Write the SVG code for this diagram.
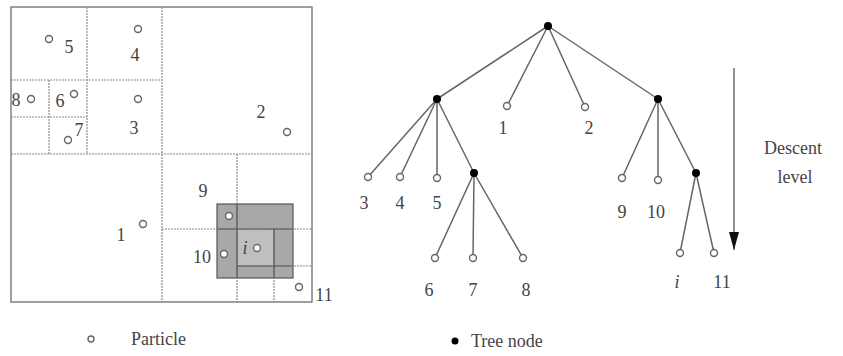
<svg xmlns="http://www.w3.org/2000/svg" width="843" height="356" viewBox="0 0 843 356">
<defs>
<style>
.grid{stroke:#8a8a8a;stroke-width:1.2;stroke-dasharray:2 1;fill:none}
.dk{stroke:#555;stroke-width:1.2;fill:none}
.p{fill:#fff;stroke:#666;stroke-width:1.4}
.n{fill:#000}
.t{font-family:"Liberation Serif",serif;font-size:18px;fill:#444;text-anchor:middle}
.e{stroke:#666;stroke-width:1.5;fill:none}
</style>
<marker id="ah" markerWidth="18" markerHeight="10" refX="18" refY="5" orient="auto" markerUnits="userSpaceOnUse" viewBox="0 0 18 10">
<path d="M0,0 L18,5 L0,10 Z" fill="#111"/>
</marker>
</defs>
<rect width="843" height="356" fill="#fff"/>
<g id="quadtree">
<rect x="217" y="204" width="76" height="74" fill="#a8a8a8" stroke="#555" stroke-width="1.2"/>
<rect x="237" y="229" width="37" height="37" fill="#bfbfbf"/>
<rect x="11" y="7" width="301" height="295" fill="none" stroke="#777" stroke-width="1.4"/>
<path class="grid" d="M162,7V302 M11,154H312 M87,7V154 M11,80H162 M49,80V154 M11,117H87 M237,154V302 M162,229H312 M274,229V302 M237,266H312"/>
<path class="dk" d="M237,204V278 M217,229H293 M274,229V278 M237,266H293"/>
</g>
<g id="particles">
<circle class="p" cx="49" cy="39" r="3.5"/><text class="t" x="69" y="53">5</text>
<circle class="p" cx="138" cy="29" r="3.5"/><text class="t" x="135" y="61">4</text>
<circle class="p" cx="31" cy="99" r="3.5"/><text class="t" x="16" y="106">8</text>
<circle class="p" cx="74" cy="94" r="3.5"/><text class="t" x="60" y="107">6</text>
<circle class="p" cx="138" cy="99" r="3.5"/><text class="t" x="134" y="134">3</text>
<circle class="p" cx="68" cy="140" r="3.5"/><text class="t" x="79" y="136">7</text>
<circle class="p" cx="287" cy="132" r="3.5"/><text class="t" x="261" y="118">2</text>
<circle class="p" cx="229" cy="216" r="3.5"/><text class="t" x="203" y="197">9</text>
<circle class="p" cx="143" cy="224" r="3.5"/><text class="t" x="121" y="241">1</text>
<circle class="p" cx="224" cy="254" r="3.5"/><text class="t" x="202" y="263">10</text>
<circle class="p" cx="257" cy="248" r="3.5"/><text class="t" x="245" y="254" font-style="italic">i</text>
<circle class="p" cx="299" cy="287" r="3.5"/><text class="t" x="324" y="301">11</text>
</g>
<g id="connectors">
<path class="e" d="M548,26L437,99 M548,26L507,106 M548,26L585,107 M548,26L658,99"/>
<path class="e" d="M437,99L368,177 M437,99L400,177 M437,99L437,178 M437,99L474,173"/>
<path class="e" d="M474,173L435,258 M474,173L473,258 M474,173L523,258"/>
<path class="e" d="M658,99L622,178 M658,99L658,180 M658,99L696,173"/>
<path class="e" d="M696,173L680,253 M696,173L714,253"/>
<line x1="734" y1="68" x2="734" y2="250" stroke="#777" stroke-width="1.6" marker-end="url(#ah)"/>
</g>
<g id="root"><circle class="n" cx="548" cy="26" r="4"/></g>
<g id="n-left"><circle class="n" cx="437" cy="99" r="4"/></g>
<g id="p1"><circle class="p" cx="507" cy="106" r="3.5"/><text class="t" x="503" y="134">1</text></g>
<g id="p2"><circle class="p" cx="585" cy="107" r="3.5"/><text class="t" x="589" y="134">2</text></g>
<g id="n-right"><circle class="n" cx="658" cy="99" r="4"/></g>
<g id="p3"><circle class="p" cx="368" cy="177" r="3.5"/><text class="t" x="364" y="209">3</text></g>
<g id="p4"><circle class="p" cx="400" cy="177" r="3.5"/><text class="t" x="400" y="209">4</text></g>
<g id="p5"><circle class="p" cx="437" cy="178" r="3.5"/><text class="t" x="437" y="209">5</text></g>
<g id="n-left2"><circle class="n" cx="474" cy="173" r="4"/></g>
<g id="p6"><circle class="p" cx="435" cy="258" r="3.5"/><text class="t" x="429" y="296">6</text></g>
<g id="p7"><circle class="p" cx="473" cy="258" r="3.5"/><text class="t" x="473" y="296">7</text></g>
<g id="p8"><circle class="p" cx="523" cy="258" r="3.5"/><text class="t" x="526" y="296">8</text></g>
<g id="p9"><circle class="p" cx="622" cy="178" r="3.5"/><text class="t" x="622" y="218">9</text></g>
<g id="p10"><circle class="p" cx="658" cy="180" r="3.5"/><text class="t" x="656" y="218">10</text></g>
<g id="n-right2"><circle class="n" cx="696" cy="173" r="4"/></g>
<g id="pi"><circle class="p" cx="680" cy="253" r="3.5"/><text class="t" x="677" y="288" font-style="italic">i</text></g>
<g id="p11"><circle class="p" cx="714" cy="253" r="3.5"/><text class="t" x="722" y="288">11</text></g>
<g id="descent-label">
<text class="t" x="793" y="154">Descent</text>
<text class="t" x="795" y="183">level</text>
</g>
<g id="legend">
<circle class="p" cx="91" cy="339" r="3"/>
<text class="t" x="131" y="345" style="text-anchor:start">Particle</text>
<circle class="n" cx="455" cy="341" r="3.5"/>
<text class="t" x="471" y="347" style="text-anchor:start">Tree node</text>
</g>
</svg>
